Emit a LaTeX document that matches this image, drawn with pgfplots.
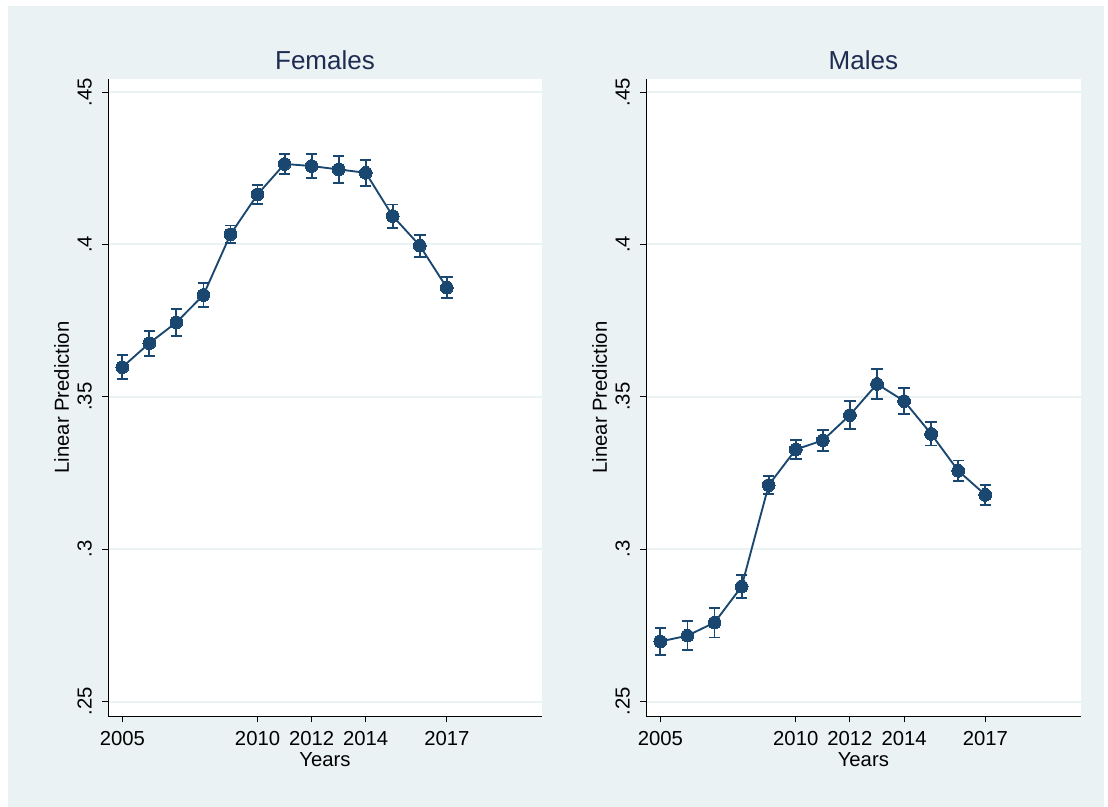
\documentclass[border=0pt]{standalone}
\usepackage{fontspec}
\setmainfont{Liberation Sans}
\usepackage{pgfplots}
\pgfplotsset{compat=1.18}
\definecolor{bgc}{HTML}{EAF2F3}
\definecolor{navy}{HTML}{1A476F}
\definecolor{ttl}{HTML}{1E2C52}
\pgfplotstableread{
x y e
2005 0.3597 0.0039
2006 0.3676 0.0041
2007 0.3744 0.0045
2008 0.3834 0.0039
2009 0.4033 0.0029
2010 0.4164 0.0031
2011 0.4264 0.0032
2012 0.4257 0.0040
2013 0.4246 0.0045
2014 0.4235 0.0042
2015 0.4093 0.0038
2016 0.3996 0.0036
2017 0.3858 0.0034
}\females
\pgfplotstableread{
x y e
2005 0.2697 0.0045
2006 0.2716 0.0047
2007 0.2759 0.0049
2008 0.2877 0.0038
2009 0.3210 0.0030
2010 0.3327 0.0031
2011 0.3357 0.0035
2012 0.3440 0.0045
2013 0.3542 0.0048
2014 0.3486 0.0043
2015 0.3378 0.0038
2016 0.3257 0.0034
2017 0.3178 0.0033
}\males
\pgfplotsset{
  panel/.style={
    scale only axis,
    width=325.5pt, height=477.75pt,
    anchor=south west,
    xmin=2004.47, xmax=2020.52,
    ymin=0.24524, ymax=0.45427,
    axis x line*=bottom, axis y line*=left,
    axis line style={line width=0.75pt, black, -},
    axis background/.style={fill=white},
    xtick={2005,2010,2012,2014,2017},
    xticklabels={2005,2010,2012,2014,2017},
    ytick={0.25,0.3,0.35,0.4,0.45},
    yticklabels={.25,.3,.35,.4,.45},
    tick align=outside,
    major tick length=4.5pt,
    tick style={line width=0.75pt, black},
    ymajorgrids,
    major grid style={line width=1.5pt, bgc},
    every tick label/.append style={font=\fontsize{15.2}{18}\selectfont},
    xticklabel style={anchor=base, yshift=-17.3pt},
    yticklabel style={xshift=-7.8pt, rotate=90, anchor=base},
    every axis x label/.style={at={(axis description cs:0.5,0)}, anchor=base, yshift=-37.5pt, font=\fontsize{15.2}{18}\selectfont},
    every axis y label/.style={at={(axis description cs:0,0.5)}, xshift=-29.3pt, rotate=90, anchor=base, font=\fontsize{15.2}{18}\selectfont},
    xlabel={Years}, ylabel={Linear Prediction},
    every axis title/.style={at={(axis description cs:0.5,1)}, anchor=base, yshift=7.3pt, font=\fontsize{19.5}{23}\selectfont, text=ttl},
    clip=false,
  },
  series/.style={
    color=navy, line width=1.4pt, mark=*, mark size=4.8pt,
    mark options={solid, fill=navy, draw=navy, line width=0pt},
    error bars/.cd, y dir=both, y explicit,
    error bar style={line width=1.4pt, navy},
    error mark options={line width=1.4pt, navy, mark size=4.3pt, rotate=90},
  },
}
\begin{document}
\begin{tikzpicture}
\useasboundingbox (0,0) rectangle (831pt,-605.25pt);
\fill[white] (0,0) rectangle (831pt,-605.25pt);
\fill[bgc] (6pt,-4.5pt) rectangle (828pt,-605.25pt);
\begin{axis}[panel, at={(81pt,-537pt)}, title={Females}]
\addplot[series] table[x=x, y=y, y error=e] {\females};
\end{axis}
\begin{axis}[panel, at={(484.5pt,-537pt)}, width=326pt, title={Males}]
\addplot[series] table[x=x, y=y, y error=e] {\males};
\end{axis}
\end{tikzpicture}
\end{document}
